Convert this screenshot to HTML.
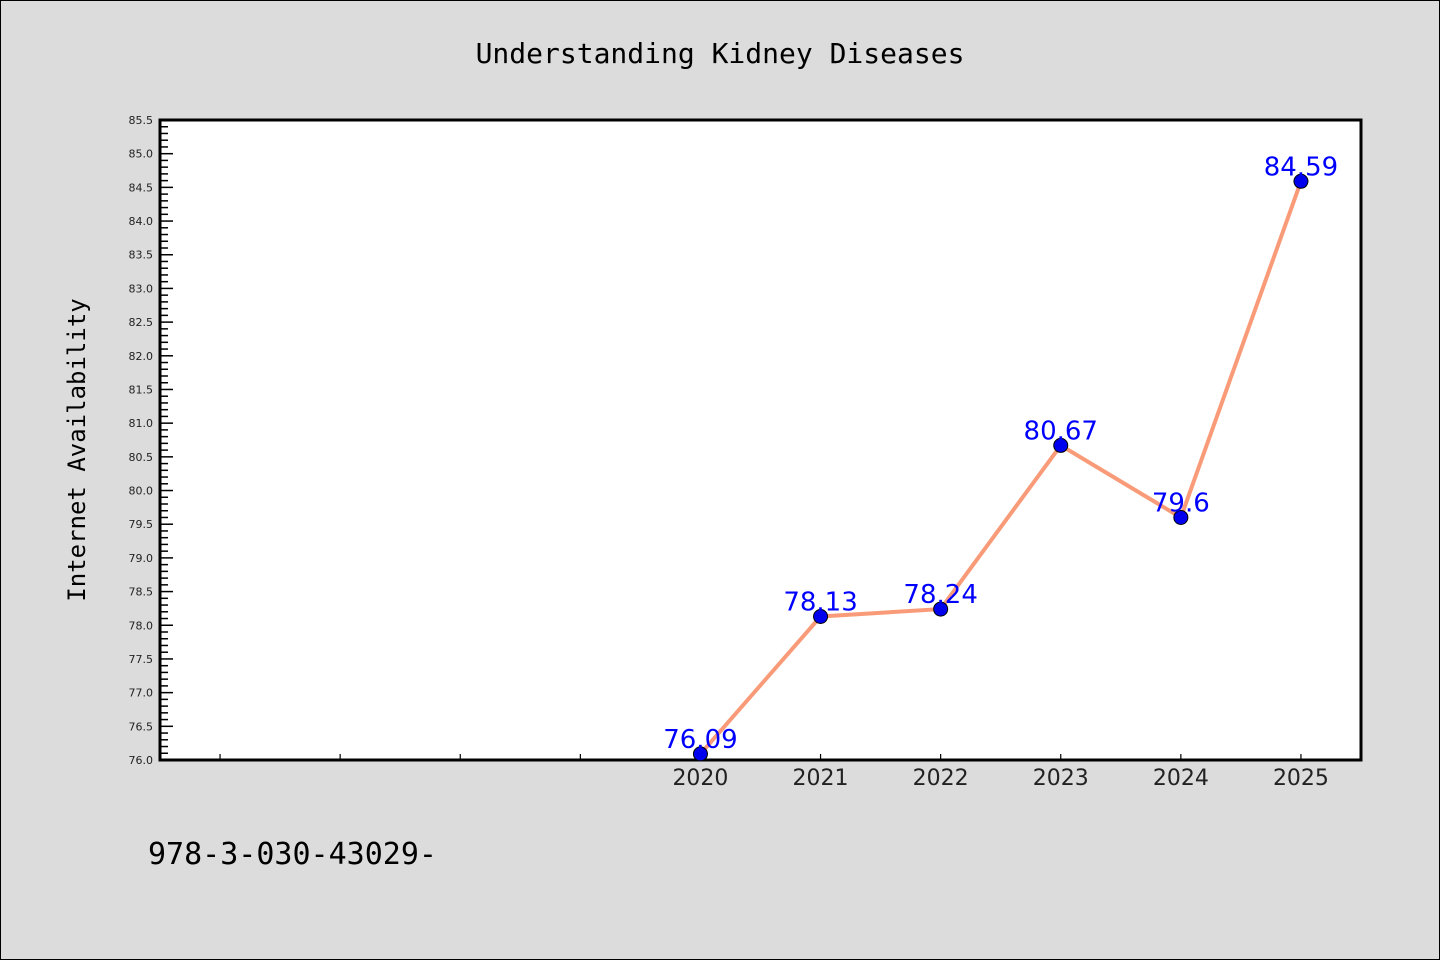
<!DOCTYPE html>
<html><head><meta charset="utf-8"><style>
body{margin:0;background:#dcdcdc;}
svg{display:block}
</style></head><body>
<svg id="chart" width="1440" height="960" xmlns="http://www.w3.org/2000/svg">
<rect x="0.5" y="0.5" width="1439" height="959" fill="#dcdcdc" stroke="#000"/>
<text x="720" y="63" text-anchor="middle" font-family="DejaVu Sans Mono, Liberation Mono, monospace" font-size="28" fill="#000">Understanding Kidney Diseases</text>
<rect x="160" y="120" width="1201" height="640" fill="#fff"/>
<g id="yaxis"></g>
<g id="xaxis"></g>
<path d="M160,760 V120 H1361 V760 Z" fill="none" stroke="#000" stroke-width="3"/>
<text transform="translate(85,450) rotate(-90)" text-anchor="middle" font-family="DejaVu Sans Mono, Liberation Mono, monospace" font-size="24" fill="#000">Internet Availability</text>
<g id="series"></g>
<text x="148" y="864" font-family="DejaVu Sans Mono, Liberation Mono, monospace" font-size="30" fill="#000">978-3-030-43029-</text>
</svg>
<script>
const years = [2020, 2021, 2022, 2023, 2024, 2025];
const values = [76.09, 78.13, 78.24, 80.67, 79.6, 84.59];
const labels = ["76.09", "78.13", "78.24", "80.67", "79.6", "84.59"];
const xTicks = [2016, 2017, 2018, 2019, 2020, 2021, 2022, 2023, 2024, 2025];
const xTickLabels = ["", "", "", "", "2020", "2021", "2022", "2023", "2024", "2025"];
const yMin = 76.0, yMax = 85.5, xMin = 2015.5, xMax = 2025.5;
const NS = "http://www.w3.org/2000/svg";
const L = 160, R = 1361, T = 120, B = 760;
function xs(v){return L + (v - xMin) / (xMax - xMin) * (R - L);}
function ys(v){return B - (v - yMin) / (yMax - yMin) * (B - T);}
function mk(tag, attrs, parent){const e=document.createElementNS(NS,tag);for(const k in attrs)e.setAttribute(k,attrs[k]);parent.appendChild(e);return e;}
const ya = document.getElementById('yaxis');
for (let i = 0; i <= 95; i++) {
  const v = yMin + i * 0.1, y = ys(v), major = i % 5 === 0;
  const t = mk('line', {x1:L, x2:L + (major ? 13 : 8), y1:y, y2:y, stroke:'#000', 'stroke-width':1.5}, ya);
  
  
  if (major) {
    const tx = mk('text', {x:153, y:y + 4, 'text-anchor':'end', 'font-family':'DejaVu Sans, Liberation Sans, sans-serif', 'font-size':11, fill:'#222'}, ya);
    tx.textContent = v.toFixed(1);
    
    
  }
}
const xa = document.getElementById('xaxis');
xTicks.forEach((v, i) => {
  const x = xs(v);
  const t = mk('line', {x1:x, x2:x, y1:B, y2:B - 6, stroke:'#000', 'stroke-width':1.2}, xa);
  
  
  if (xTickLabels[i]) {
    const tx = mk('text', {x:x, y:785, 'text-anchor':'middle', 'font-family':'DejaVu Sans, Liberation Sans, sans-serif', 'font-size':22, fill:'#222'}, xa);
    tx.textContent = xTickLabels[i];
    
    
  }
});
const s = document.getElementById('series');
const line = mk('polyline', {points: years.map((y,i)=>xs(y)+','+ys(values[i])).join(' '), fill:'none', stroke:'#f99b78', 'stroke-width':4}, s);


years.forEach((y, i) => {
  const c = mk('circle', {cx:xs(y), cy:ys(values[i]), r:7, fill:'#0000ee', stroke:'#000', 'stroke-width':1}, s);
  
  
});
years.forEach((y, i) => {
  const t = mk('text', {x:xs(y), y:ys(values[i]) - 6, 'text-anchor':'middle', 'font-family':'DejaVu Sans, Liberation Sans, sans-serif', 'font-size':26, fill:'#0000ff'}, s);
  t.textContent = labels[i];
  
  
});
</script>
</body></html>
